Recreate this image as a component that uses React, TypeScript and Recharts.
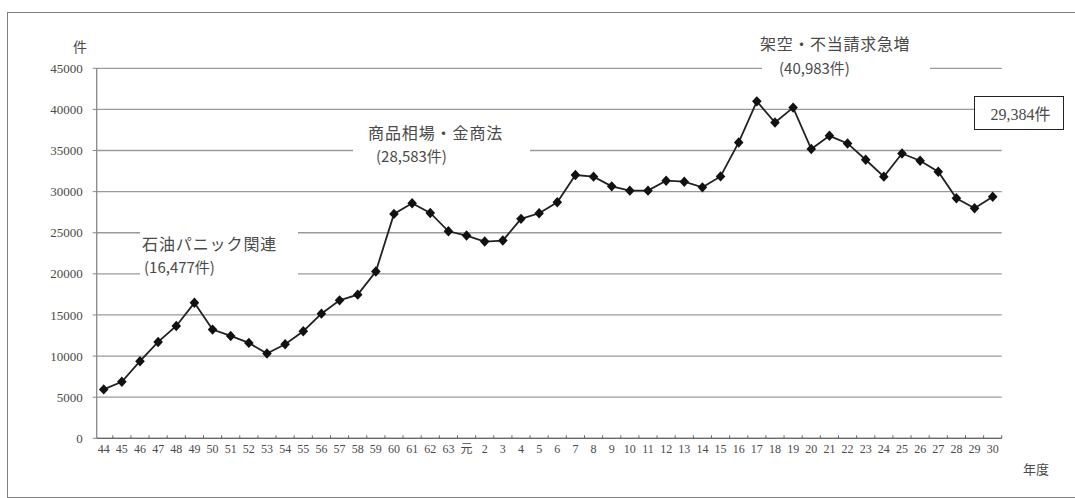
import { LineChart, Line, XAxis, YAxis, CartesianGrid } from 'recharts'

// 年度 (昭和44〜63, 元, 平成2〜30)
const YEARS = [
  '44', '45', '46', '47', '48', '49', '50', '51', '52', '53',
  '54', '55', '56', '57', '58', '59', '60', '61', '62', '63',
  '元', '2', '3', '4', '5', '6', '7', '8', '9', '10',
  '11', '12', '13', '14', '15', '16', '17', '18', '19', '20',
  '21', '22', '23', '24', '25', '26', '27', '28', '29', '30',
]

// 相談件数
const COUNTS = [
  5950, 6870, 9380, 11720, 13660, 16477, 13220, 12450, 11600, 10310,
  11440, 13020, 15160, 16780, 17470, 20290, 27290, 28583, 27410, 25180,
  24660, 23930, 24050, 26690, 27370, 28700, 32020, 31820, 30640, 30120,
  30120, 31330, 31210, 30520, 31850, 35980, 40983, 38400, 40220, 35180,
  36790, 35860, 33880, 31820, 34640, 33760, 32420, 29190, 27980, 29384,
]

const Y_TICKS = [0, 5000, 10000, 15000, 20000, 25000, 30000, 35000, 40000, 45000]

const data = YEARS.map((year, i) => ({ year, count: COUNTS[i] }))

const W = 1075
const H = 498
const PLOT_LEFT = 96.7
const PLOT_RIGHT = 1001.7
const PAD_L = 7
const PAD_R = 9
const STEP = (PLOT_RIGHT - PLOT_LEFT - PAD_L - PAD_R) / (YEARS.length - 1)

const SERIF = '"Liberation Serif", "Noto Sans CJK JP", serif'
const JP = '"Noto Sans CJK JP", sans-serif'
const TEXT = '#4a4a4a'

function Diamond(props: any) {
  const { cx, cy } = props
  if (cx == null || cy == null) return null
  return <path d={`M${cx},${cy - 5.2}L${cx + 4.8},${cy}L${cx},${cy + 5.2}L${cx - 4.8},${cy}Z`} fill="#111" />
}

function YearTick(props: any) {
  const { x, y, payload } = props
  return (
    <g>
      <text x={x} y={y + 11} textAnchor="middle" dominantBaseline="central" fontSize={12} fontFamily={SERIF} fill={TEXT}>
        {payload.value}
      </text>
      <line x1={x + STEP / 2} x2={x + STEP / 2} y1={y} y2={y - 3} stroke="#666" />
    </g>
  )
}

function Note({ left, cy, size, children, spacing = 0 }: { left: number; cy: number; size: number; children: React.ReactNode; spacing?: number }) {
  return (
    <div style={{ position: 'absolute', left, top: cy - 10, lineHeight: '20px', fontSize: size, fontFamily: JP, color: TEXT, letterSpacing: spacing, whiteSpace: 'nowrap' }}>
      {children}
    </div>
  )
}

function Blank({ left, top, width, height }: { left: number; top: number; width: number; height: number }) {
  return <div style={{ position: 'absolute', left, top, width, height, background: 'white' }} />
}

export default function App() {
  return (
    <div style={{ position: 'absolute', left: 0, top: 0, width: W, height: H, overflow: 'hidden', background: 'white' }}>
      {/* 外枠 */}
      <div style={{ position: 'absolute', left: 7, top: 12, width: W, height: 484, border: '1.5px solid #808080' }} />

      <div style={{ position: 'absolute', left: 0, top: 0 }}>
        <LineChart width={W} height={H} data={data} margin={{ top: 68.3, right: W - PLOT_RIGHT, bottom: 29.7, left: 0 }}>
          <CartesianGrid vertical={false} stroke="#9a9a9a" strokeWidth={1.3} />
          <XAxis
            dataKey="year"
            interval={0}
            padding={{ left: PAD_L, right: PAD_R }}
            tickLine={false}
            tickSize={0}
            tickMargin={0}
            height={30}
            axisLine={{ stroke: '#666', strokeWidth: 1.3 }}
            tick={<YearTick />}
          />
          <YAxis
            domain={[0, 45000]}
            ticks={Y_TICKS}
            width={PLOT_LEFT}
            tickSize={4}
            tickMargin={10}
            tickLine={{ stroke: '#888' }}
            axisLine={{ stroke: '#888', strokeWidth: 1.3 }}
            tick={{ fontSize: 13, fontFamily: SERIF, fill: TEXT }}
          />
          <Line
            type="linear"
            dataKey="count"
            stroke="#222"
            strokeWidth={1.8}
            dot={<Diamond />}
            activeDot={false}
            isAnimationActive={false}
          />
        </LineChart>
      </div>

      {/* 注記 */}
      <Blank left={140} top={226} width={158} height={52} />
      <Note left={142} cy={243} size={16} spacing={0.9}>石油パニック関連</Note>
      <Note left={144} cy={266.5} size={15}>(16,477件)</Note>

      <Blank left={353} top={144} width={177} height={16} />
      <Note left={368} cy={132} size={16} spacing={0.9}>商品相場・金商法</Note>
      <Note left={376} cy={156} size={15}>(28,583件)</Note>

      <Blank left={762} top={60} width={168} height={16} />
      <Note left={760} cy={43} size={16} spacing={0.7}>架空・不当請求急増</Note>
      <Note left={779} cy={67.5} size={15}>(40,983件)</Note>

      <div style={{ position: 'absolute', left: 974, top: 96, width: 85, height: 32, border: '1.5px solid #222', background: 'white', display: 'flex', alignItems: 'center', justifyContent: 'center', paddingLeft: 3, fontSize: 16, fontFamily: SERIF, color: TEXT, boxSizing: 'content-box' }}>
        29,384件
      </div>

      <div style={{ position: 'absolute', left: 73, top: 36, fontSize: 14, fontFamily: JP, color: TEXT }}>件</div>
      <div style={{ position: 'absolute', left: 1023, top: 459, fontSize: 13, fontFamily: JP, color: TEXT }}>年度</div>
    </div>
  )
}
